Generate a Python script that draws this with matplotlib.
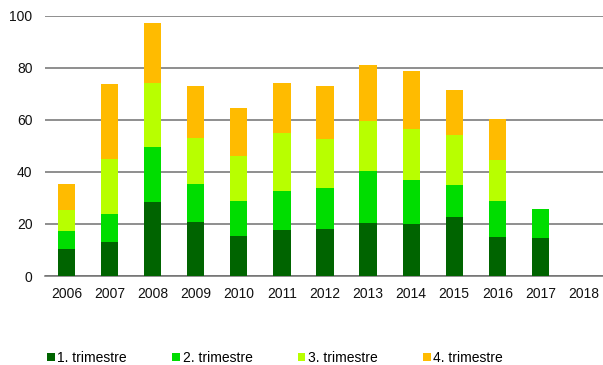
import matplotlib.pyplot as plt
import numpy as np

plt.rcParams['font.family'] = ['Liberation Sans', 'DejaVu Sans']

years = ["2006", "2007", "2008", "2009", "2010", "2011", "2012",
         "2013", "2014", "2015", "2016", "2017", "2018"]
q1 = [10.5, 12.9, 28.3, 20.6, 15.5, 17.7, 18.1, 20.2, 20.1, 22.8, 15.0, 14.6, 0]
q2 = [6.8, 10.8, 21.3, 14.6, 13.4, 14.8, 15.7, 20.1, 16.9, 12.3, 13.9, 11.0, 0]
q3 = [8.1, 21.1, 24.7, 17.9, 17.3, 22.4, 18.8, 19.4, 19.5, 19.2, 15.5, 0, 0]
q4 = [9.9, 28.8, 22.8, 19.8, 18.5, 19.1, 20.3, 21.5, 22.4, 17.1, 15.9, 0, 0]
labels = ["1. trimestre", "2. trimestre", "3. trimestre", "4. trimestre"]
colors = ["#006400", "#00dd00", "#b8ff00", "#ffbb00"]

fig = plt.figure(figsize=(6.03, 3.65), dpi=100)
ax = fig.add_axes([45 / 603, 89 / 365, 560 / 603, 260.3 / 365])

x = np.arange(len(years))
bottom = np.zeros(len(years))
handles = []
for vals, col, lab in zip([q1, q2, q3, q4], colors, labels):
    b = ax.bar(x, vals, 0.4, bottom=bottom, color=col, label=lab, zorder=3)
    handles.append(b)
    bottom += np.array(vals)

ax.set_xlim(-0.5, 12.5)
ax.set_ylim(0, 100)
ax.set_yticks(range(0, 101, 20))
ax.yaxis.grid(True, color="#707070", linewidth=1.1, zorder=1)
ax.set_xticks(x)
ax.set_xticklabels(years)
ax.tick_params(axis="both", length=0, labelsize=10, colors="#111111")
ax.tick_params(axis="y", pad=9)
ax.tick_params(axis="x", pad=8)
for s in ["top", "right", "left"]:
    ax.spines[s].set_visible(False)
ax.spines["bottom"].set_color("#707070")
ax.spines["bottom"].set_linewidth(1.1)

fig.legend(handles=handles, labels=labels, loc="center left", bbox_to_anchor=(47 / 603, 7 / 365),
           ncol=4, frameon=False, fontsize=10, handlelength=0.55, handleheight=0.55,
           handletextpad=0.2, columnspacing=3.25, borderaxespad=0, borderpad=0)

plt.savefig("out.png", dpi=100)
